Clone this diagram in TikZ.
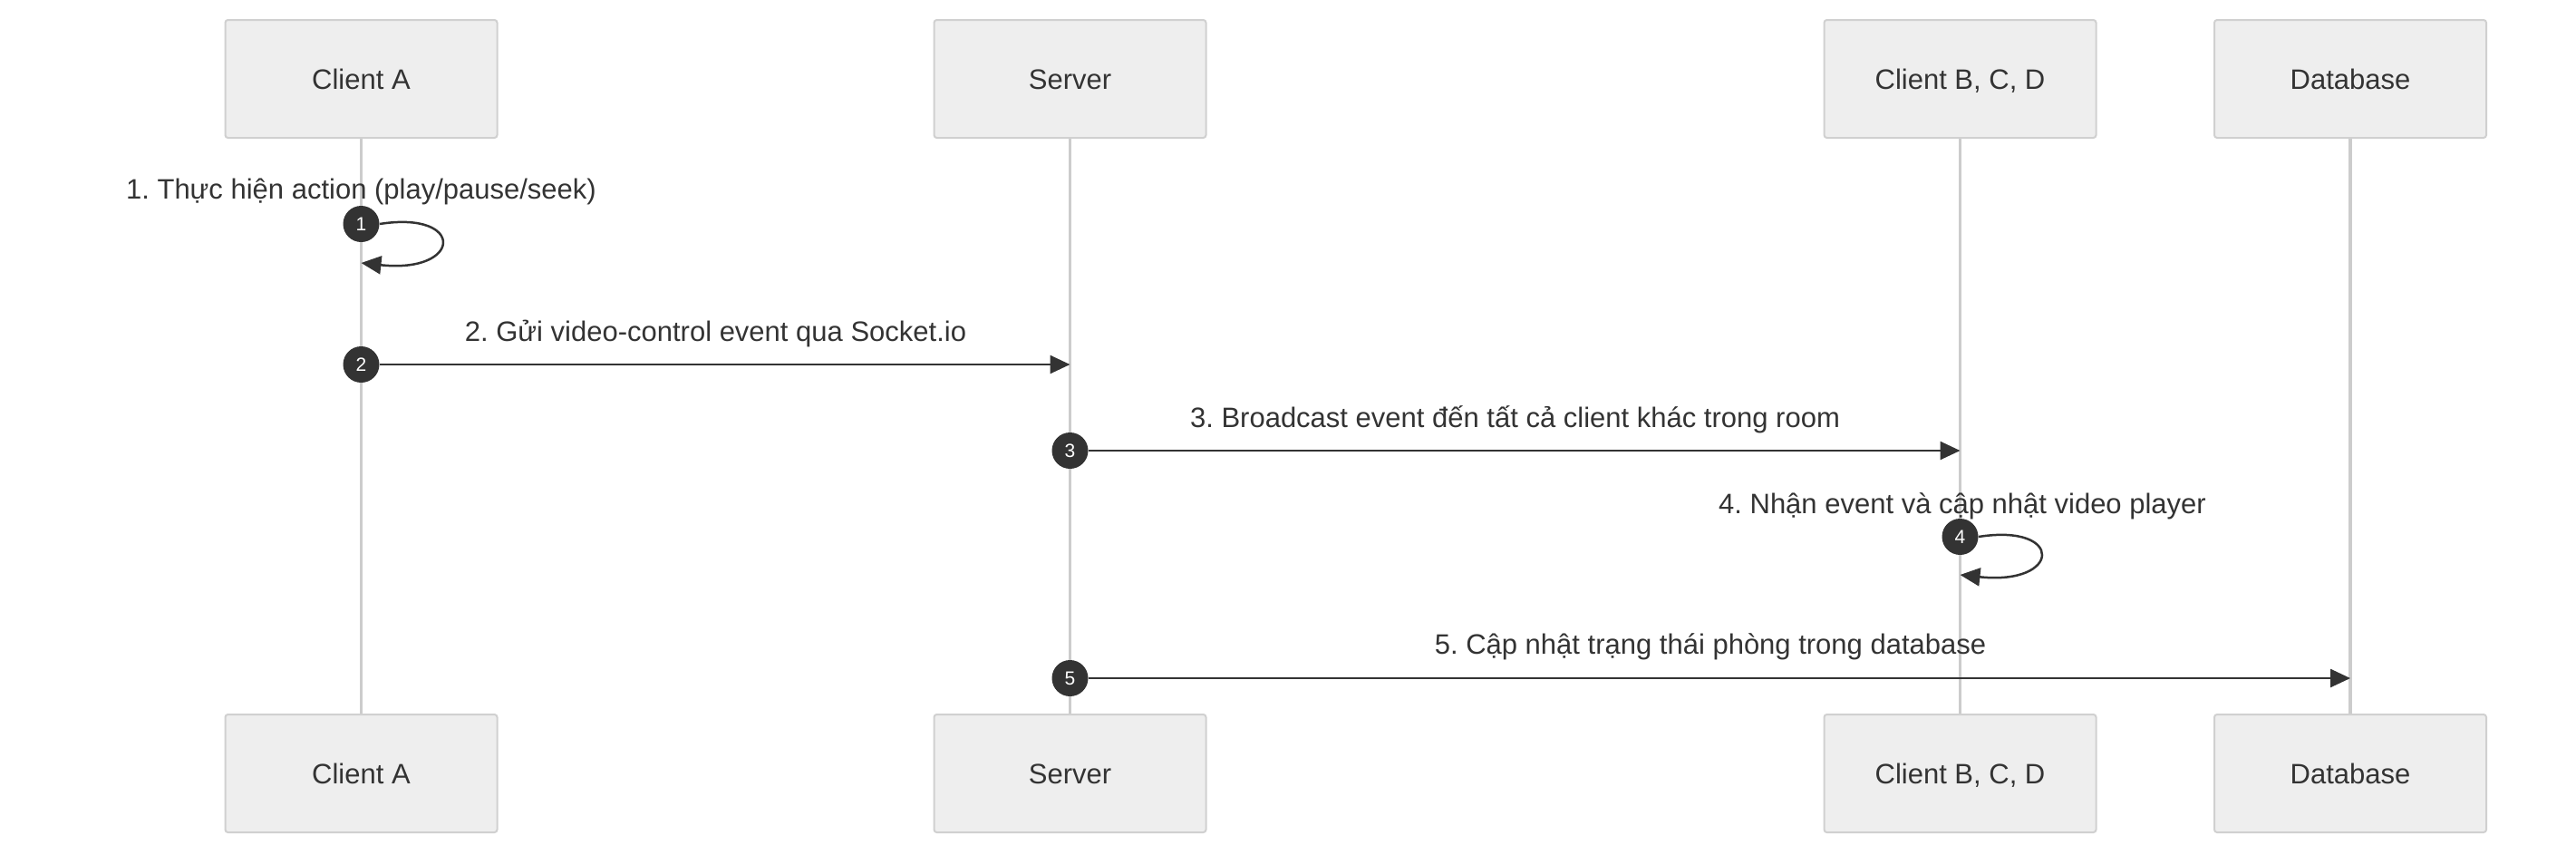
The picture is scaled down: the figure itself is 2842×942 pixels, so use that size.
\documentclass[tikz,border=0pt]{standalone}
\usepackage{fontspec}
\setmainfont{Liberation Sans}
\usetikzlibrary{arrows.meta}
\definecolor{txt}{HTML}{333333}
\definecolor{boxfill}{HTML}{EEEEEE}
\definecolor{boxline}{HTML}{D0D0D0}
\definecolor{life}{HTML}{CCCCCC}
\frenchspacing
\begin{document}
\begin{tikzpicture}[x=0.5pt,y=-0.5pt,
 actor/.style={draw=boxline, line width=1pt, fill=boxfill, rounded corners=1.5pt, minimum width=150pt, minimum height=65pt, inner sep=0pt, text height=11.2pt, text depth=0pt, font=\fontsize{15.5}{18}\selectfont, text=txt},
 lifeline/.style={draw=life, line width=1.6pt},
 msg/.style={draw=txt, line width=1.25pt, -{Triangle[length=11pt,width=10pt]}},
 msgtext/.style={font=\fontsize{15.5}{18}\selectfont, text=txt, inner sep=0pt},
 seq/.style={circle, fill=txt, text=white, minimum size=20pt, inner sep=0pt, font=\fontsize{10.5}{12}\selectfont}
]
\useasboundingbox (0,0) rectangle (2842,942);
% actors top
\node[actor] (tA) at (398.5,87) {Client A};
\node[actor] (tS) at (1180.5,87) {Server};
\node[actor] (tC) at (2162.5,87) {Client B, C, D};
\node[actor] (tD) at (2593,87) {Database};
% actors bottom
\node[actor] (bA) at (398.5,853) {Client A};
\node[actor] (bS) at (1180.5,853) {Server};
\node[actor] (bC) at (2162.5,853) {Client B, C, D};
\node[actor] (bD) at (2593,853) {Database};
% lifelines
\draw[lifeline] (tA.south) -- (bA.north);
\draw[lifeline] (tS.south) -- (bS.north);
\draw[lifeline] (tC.south) -- (bC.north);
\draw[lifeline] (tD.south) -- (bD.north);
% end coordinates
\coordinate (e1) at (398.5,290);
\coordinate (e2) at (1180.5,402);
\coordinate (e3) at (2162.5,497);
\coordinate (e4) at (2162.5,634);
\coordinate (e5) at (2593,748);
% sequence circles
\node[seq] (s1) at (398.5,247) {1};
\node[seq] (s2) at (398.5,402) {2};
\node[seq] (s3) at (1180.5,497) {3};
\node[seq] (s4) at (2162.5,592) {4};
\node[seq] (s5) at (1180.5,748) {5};
% messages
\draw[msg] (s1.east) .. controls +(95,-15) and +(112,12) .. (e1);
\draw[msg] (s2.east) -- (e2);
\draw[msg] (s3.east) -- (e3);
\draw[msg] (s4.east) .. controls +(95,-15) and +(112,12) .. (e4);
\draw[msg] (s5.east) -- (e5);
% labels
\node[msgtext] (l1) at (398.5,211) {1. Thực hiện action (play/pause/seek)};
\node[msgtext] (l2) at (789.5,368) {2. Gửi video-control event qua Socket.io};
\node[msgtext] (l3) at (1671.5,463) {3. Broadcast event đến tất cả client khác trong room};
\node[msgtext] (l4) at (2165,558) {4. Nhận event và cập nhật video player};
\node[msgtext] (l5) at (1887,713) {5. Cập nhật trạng thái phòng trong database};
\end{tikzpicture}
\end{document}
